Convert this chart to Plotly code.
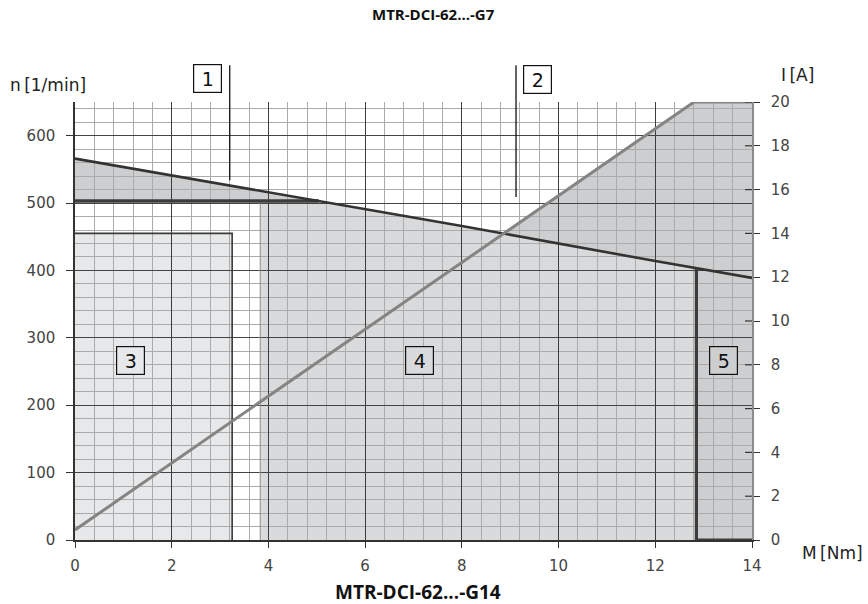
import numpy as np
import plotly.graph_objects as go

# Torque axis M [Nm]
torque_ticks = [0, 2, 4, 6, 8, 10, 12, 14]
speed_ticks = [0, 100, 200, 300, 400, 500, 600]
current_ticks = [0, 2, 4, 6, 8, 10, 12, 14, 16, 18, 20]

# Speed characteristic n(M) [1/min]
speed_torque = [0, 4, 8, 12, 14]
speed_rpm = [566, 516, 466, 414, 389]

# Current characteristic I(M) [A]
current_torque = [0, 12.8, 14]
current_amp = [0.46, 20, 20]

# Speed limit line [1/min]
limit_rpm = 503
# Region 3: continuous operation field
region3_torque = 3.25
region3_rpm = 455
# Region 4 starts here [Nm]
region4_start = 3.83
# Torque cut-off [Nm]
cutoff_torque = 12.85

N_MAX = 650
I_MAX = 20
M_MAX = 14

FONT = "DejaVu Sans"
TITLE_FONT = "Open Sans"


def speed_at(m):
    return float(np.interp(m, speed_torque, speed_rpm))


def current_rpm_at(m):
    return float(np.interp(m, current_torque, current_amp)) * N_MAX / I_MAX


def polyline(knots_x, func, a, b):
    xs = [a] + [v for v in knots_x if a < v < b] + [b]
    return xs, [func(v) for v in xs]


def svg_path(xs, ys):
    pts = [f"{x:.4f},{y:.4f}" for x, y in zip(xs, ys)]
    return "M " + " L ".join(pts) + " Z"


# where the speed curve meets the limit line
m_limit = float(np.interp(limit_rpm, speed_rpm[::-1], speed_torque[::-1]))
# where the current curve crosses the speed curve
grid = np.linspace(0, M_MAX, 14001)
diff = np.array([current_rpm_at(g) - speed_at(g) for g in grid])
m_cross = float(grid[np.argmin(np.abs(diff))])

shade_dark = "#cdcecf"
shade_mid = "#d9dadb"
shade_light = "#e7e8e9"

shapes = []

# region 3
shapes.append(dict(type="rect", xref="x", yref="y", x0=0, x1=region3_torque,
                   y0=0, y1=region3_rpm, fillcolor=shade_light,
                   line=dict(width=0), layer="below"))

# region 1: between limit line and speed curve
sx, sy = polyline(speed_torque, speed_at, 0, m_limit)
shapes.append(dict(type="path", xref="x", yref="y",
                   path=svg_path([0] + sx, [limit_rpm] + sy),
                   fillcolor=shade_dark, line=dict(width=0), layer="below"))

# region 4: under the speed curve
sx, sy = polyline(speed_torque, speed_at, m_limit, cutoff_torque)
shapes.append(dict(type="path", xref="x", yref="y",
                   path=svg_path([region4_start, region4_start] + sx + [cutoff_torque],
                                 [0, limit_rpm] + sy + [0]),
                   fillcolor=shade_mid, line=dict(width=0), layer="below"))

# region 5: beyond cut-off torque
sx, sy = polyline(speed_torque, speed_at, cutoff_torque, M_MAX)
shapes.append(dict(type="path", xref="x", yref="y",
                   path=svg_path([cutoff_torque] + sx + [M_MAX], [0] + sy + [0]),
                   fillcolor=shade_dark, line=dict(width=0), layer="below"))

# region 2: between speed curve and current curve
cx, cy = polyline(current_torque, current_rpm_at, m_cross, M_MAX)
sx, sy = polyline(speed_torque, speed_at, m_cross, M_MAX)
shapes.append(dict(type="path", xref="x", yref="y",
                   path=svg_path(cx + sx[::-1], cy + sy[::-1]),
                   fillcolor=shade_dark, line=dict(width=0), layer="below"))

# ticks of the current axis cross the right edge
for v in current_ticks[1:]:
    shapes.append(dict(type="line", xref="paper", yref="y2", x0=1 - 7 / 677, x1=1,
                       y0=v, y1=v, line=dict(color="#333333", width=1.2)))

# pointer lines for labels 1 and 2
pointers = [(3.2, 534), (9.12, 509)]
for px, py in pointers:
    shapes.append(dict(type="line", xref="x", yref="paper", x0=px, x1=px,
                       y0=1.084, y1=py / N_MAX, line=dict(color="#111111", width=1.3)))

fig = go.Figure()

# region 3 outline
fig.add_trace(go.Scatter(x=[0, region3_torque, region3_torque],
                         y=[region3_rpm, region3_rpm, 0], mode="lines",
                         line=dict(color="#3a3a3a", width=1.6), hoverinfo="skip"))
# left edge of region 4
fig.add_trace(go.Scatter(x=[region4_start, region4_start], y=[0, limit_rpm], mode="lines",
                         line=dict(color="#8e8e8e", width=1), hoverinfo="skip"))
# current curve
fig.add_trace(go.Scatter(x=current_torque, y=current_amp, yaxis="y2", mode="lines",
                         line=dict(color="#848484", width=3), hoverinfo="skip"))
# speed limit line
fig.add_trace(go.Scatter(x=[0, m_limit], y=[limit_rpm, limit_rpm], mode="lines",
                         line=dict(color="#3c3c3c", width=3.5), hoverinfo="skip"))
# speed curve
fig.add_trace(go.Scatter(x=speed_torque, y=speed_rpm, mode="lines",
                         line=dict(color="#333333", width=2.6), hoverinfo="skip"))
# torque cut-off
fig.add_trace(go.Scatter(x=[cutoff_torque, cutoff_torque, M_MAX],
                         y=[speed_at(cutoff_torque), 0, 0], mode="lines",
                         line=dict(color="#3c3c3c", width=3.2), hoverinfo="skip"))

tick_font = dict(family=FONT, size=15, color="#444444")

annotations = []
# numbered field labels inside the chart
field_labels = [("3", 1.148, 267, shade_light), ("4", 7.13, 267, shade_mid),
                ("5", 13.42, 267, shade_dark)]
for txt, lx, ly, bg in field_labels:
    annotations.append(dict(text=txt, x=lx, y=ly, xref="x", yref="y", showarrow=False,
                            xanchor="center", yanchor="middle",
                            width=27, height=27, bgcolor=bg, bordercolor="#111111",
                            borderwidth=1.2, borderpad=0,
                            font=dict(family=FONT, size=19, color="#111111")))
# numbered labels above the chart
top_labels = [("1", 2.74, 1.0537), ("2", 9.56, 1.0525)]
for txt, lx, ly in top_labels:
    annotations.append(dict(text=txt, x=lx, y=ly, xref="x", yref="paper", showarrow=False,
                            xanchor="center", yanchor="middle",
                            width=27, height=27, bgcolor="white", bordercolor="#111111",
                            borderwidth=1.2, borderpad=0,
                            font=dict(family=FONT, size=19, color="#111111")))

axis_font = dict(family=FONT, size=17, color="#222222")
annotations += [
    dict(text="<b>MTR-DCI-62...-G7</b>", x=0.530, y=1.2009, xref="paper", yref="paper",
         xanchor="center", yanchor="middle", showarrow=False,
         font=dict(family=TITLE_FONT, size=15, color="#111111")),
    dict(text="<b>MTR-DCI-62...-G14</b>", x=0.506, y=-0.1187, xref="paper", yref="paper",
         xanchor="center", yanchor="middle", showarrow=False,
         font=dict(family=TITLE_FONT, size=19, color="#111111")),
    dict(text="n\u2009[1/min]", x=-0.099, y=1.0388, xref="paper", yref="paper",
         xanchor="left", yanchor="middle", showarrow=False, font=axis_font),
    dict(text="I\u2009[A]", x=1.040, y=1.0616, xref="paper", yref="paper",
         xanchor="left", yanchor="middle", showarrow=False, font=axis_font),
    dict(text="M\u2009[Nm]", x=1.0709, y=-0.0297, xref="paper", yref="paper",
         xanchor="left", yanchor="middle", showarrow=False, font=axis_font),
]

fig.update_layout(
    width=868, height=604,
    margin=dict(l=75, r=116, t=102, b=64),
    paper_bgcolor="white", plot_bgcolor="white",
    showlegend=False,
    shapes=shapes,
    annotations=annotations,
    xaxis=dict(range=[0, M_MAX], tickvals=torque_ticks, ticks="outside", ticklen=6,
               tickcolor="#333333", tickwidth=1.2, showline=True, linecolor="#333333",
               linewidth=1.5, showgrid=True, gridcolor="#3c3c3c", gridwidth=1,
               zeroline=False, tickfont=tick_font, ticklabelstandoff=5,
               minor=dict(dtick=0.4, tick0=0, showgrid=True, gridcolor="#ababab",
                          gridwidth=1)),
    yaxis=dict(range=[0, N_MAX], tickvals=speed_ticks, ticks="outside", ticklen=7,
               tickcolor="#333333", tickwidth=1.2, showline=True, linecolor="#333333",
               linewidth=1.5, showgrid=True, gridcolor="#444444", gridwidth=1.3,
               zeroline=False, tickfont=tick_font, ticklabelstandoff=8,
               minor=dict(dtick=20, tick0=0, showgrid=True, gridcolor="#ababab",
                          gridwidth=1)),
    yaxis2=dict(range=[0, I_MAX], tickvals=current_ticks, overlaying="y", side="right",
                ticks="outside", ticklen=6, tickcolor="#333333", tickwidth=1.2,
                showline=True, linecolor="#8c8c8c", linewidth=1.5, showgrid=False,
                zeroline=False, tickfont=tick_font, ticklabelstandoff=8),
)

fig.write_html("out.html")
